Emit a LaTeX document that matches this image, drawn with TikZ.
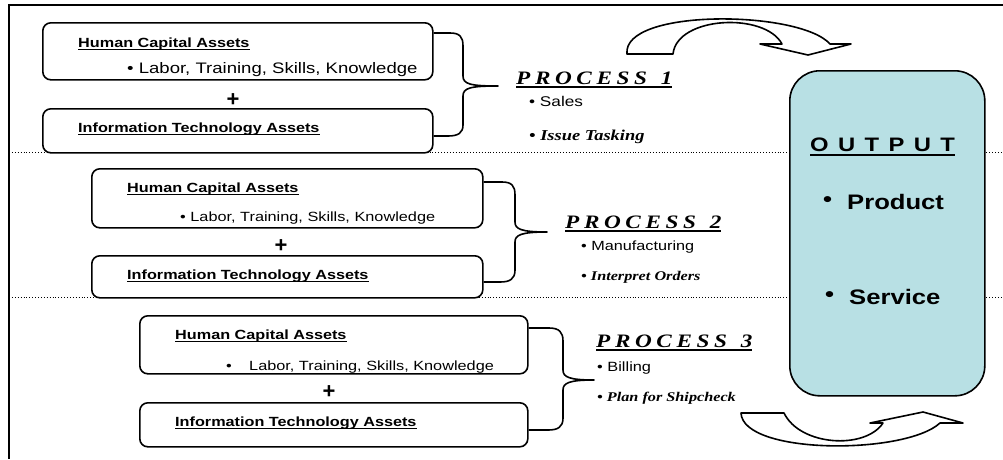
\documentclass[tikz,border=0pt]{standalone}
\usepackage{fontspec}
\setmainfont{Liberation Sans}
\newfontfamily\tms{Liberation Serif}
\usepackage{graphicx}
\newcommand\sx[1]{\scalebox{1.22}[1]{#1}}
\newcommand\ulx[3]{\setbox0\hbox{#3}\leavevmode\rlap{\rule[-#1]{\wd0}{#2}}\box0}
\newcommand\fs[1]{\fontsize{#1}{#1}\selectfont}
\newcommand\lsp{\hspace{3.8pt}}
\newcommand\osp{\hspace{7.7pt}}
\definecolor{outfill}{RGB}{184,224,228}
\begin{document}
\begin{tikzpicture}[x=1pt,y=-1pt,
  asset/.style={draw, line width=1.6pt, rounded corners=8pt, fill=white, anchor=north west, inner sep=0pt},
  txt/.style={anchor=west, inner sep=0pt},
  bracepath/.style={line width=1.6pt, line join=round},
  sep/.style={dotted, line width=0.9pt},
  frame/.style={line width=1.4pt},
  blockarrow/.style={draw, fill=white, line width=1.6pt, line join=round}
]
\useasboundingbox (0,0) rectangle (1003,459);
% frame
\coordinate (ftl) at (9,5);
\coordinate (ftr) at (1003,5);
\coordinate (fbl) at (9,459);
\draw[frame] (ftr) -- (ftl) -- (fbl);
% separators
\coordinate (s1a) at (9,152); \coordinate (s1b) at (1003,152);
\coordinate (s2a) at (9,297); \coordinate (s2b) at (1003,297);
\draw[sep] (s1a) -- (s1b);
\draw[sep] (s2a) -- (s2b);

% ---- set 1
\node[asset, minimum width=390pt, minimum height=57pt] (h1) at (42,22) {};
\node[asset, minimum width=390pt, minimum height=44pt] (i1) at (42,108) {};
\node[txt] (h1t) at (78,44) {\fs{13.3}\sx{\ulx{2.8pt}{1.4pt}{\bfseries Human Capital Assets}}};
\node[txt] (h1b) at (127,70) {\fs{15.2}\sx{• Labor, Training, Skills, Knowledge}};
\node (p1) at (233,100) {\fs{22}\bfseries +};
\node[txt] (i1t) at (78,129) {\fs{13.3}\sx{\ulx{2.8pt}{1.4pt}{\bfseries Information Technology Assets}}};

% ---- set 2
\node[asset, minimum width=391pt, minimum height=59pt] (h2) at (91,168) {};
\node[asset, minimum width=391pt, minimum height=42pt] (i2) at (91,255) {};
\node[txt] (h2t) at (127,189) {\fs{13.3}\sx{\ulx{2.8pt}{1.4pt}{\bfseries Human Capital Assets}}};
\node[txt] (h2b) at (180,218) {\fs{13.35}\sx{• Labor, Training, Skills, Knowledge}};
\node (p2) at (281,246) {\fs{22}\bfseries +};
\node[txt] (i2t) at (127,276) {\fs{13.3}\sx{\ulx{2.8pt}{1.4pt}{\bfseries Information Technology Assets}}};

% ---- set 3
\node[asset, minimum width=388pt, minimum height=58pt] (h3) at (139,315) {};
\node[asset, minimum width=388pt, minimum height=44pt] (i3) at (139,402) {};
\node[txt] (h3t) at (175,336) {\fs{13.3}\sx{\ulx{2.8pt}{1.4pt}{\bfseries Human Capital Assets}}};
\node[txt] (h3d) at (226,367) {\fs{13.35}\sx{•}};
\node[txt] (h3b) at (249,367) {\fs{13.35}\sx{Labor, Training, Skills, Knowledge}};
\node (p3) at (329,392) {\fs{22}\bfseries +};
\node[txt] (i3t) at (175,423) {\fs{13.3}\sx{\ulx{2.8pt}{1.4pt}{\bfseries Information Technology Assets}}};

% ---- braces
\draw[bracepath] (h1.east |- 0,33) -- (450,33) .. controls (460,33) and (463,37) .. (463,46) -- (463,76)
  .. controls (463,84) and (470,86) .. (498,86) .. controls (470,86) and (463,88) .. (463,96) -- (463,125)
  .. controls (463,133) and (458,136) .. (448,136) -- (i1.east |- 0,136);
\draw[bracepath] (h2.east |- 0,182) -- (502,182) .. controls (512,182) and (515,186) .. (515,195) -- (515,222)
  .. controls (515,229) and (521,232) .. (547,232) .. controls (521,232) and (515,235) .. (515,242) -- (515,270)
  .. controls (515,279) and (510,282) .. (500,282) -- (i2.east |- 0,282);
\draw[bracepath] (h3.east |- 0,328) -- (549,328) .. controls (559,328) and (563,332) .. (563,341) -- (563,370)
  .. controls (563,377) and (569,380) .. (594,380) .. controls (569,380) and (563,383) .. (563,390) -- (563,418)
  .. controls (563,427) and (558,430) .. (548,430) -- (i3.east |- 0,430);

% ---- processes
\node[txt] (pr1) at (516,80) {\fs{19}\sx{\ulx{3.2pt}{1.5pt}{\tms\bfseries\itshape P\lsp R\lsp O\lsp C\lsp E\lsp S\lsp S\hspace{11.3pt}1}}};
\node[txt] (pr1a) at (529,101) {\fs{14.1}\sx{• Sales}};
\node[txt] (pr1b) at (529,137) {\fs{15.1}\sx{\tms\bfseries\itshape • Issue Tasking}};

\node[txt] (pr2) at (565,224) {\fs{19}\sx{\ulx{3.2pt}{1.5pt}{\tms\bfseries\itshape P\lsp R\lsp O\lsp C\lsp E\lsp S\lsp S\hspace{11.3pt}2}}};
\node[txt] (pr2a) at (581,247) {\fs{13.3}\sx{• Manufacturing}};
\node[txt] (pr2b) at (581,277) {\fs{13.3}\sx{\tms\bfseries\itshape • Interpret Orders}};

\node[txt] (pr3) at (596,343) {\fs{19}\sx{\ulx{3.2pt}{1.5pt}{\tms\bfseries\itshape P\lsp R\lsp O\lsp C\lsp E\lsp S\lsp S\hspace{11.3pt}3}}};
\node[txt] (pr3a) at (597,368) {\fs{13.4}\sx{• Billing}};
\node[txt] (pr3b) at (597,398) {\fs{13.3}\sx{\tms\bfseries\itshape • Plan for Shipcheck}};

% ---- output
\node[draw, fill=outfill, line width=1.6pt, rounded corners=30pt, minimum width=195pt, minimum height=325pt,
  anchor=north west, inner sep=0pt] (out) at (789,70) {};
\node[txt] (outt) at (810,147) {\fs{19.5}\sx{\ulx{3.8pt}{2.2pt}{\bfseries O\osp U\osp T\osp P\osp U\osp T}}};
\node[txt] (o1d) at (823,202) {\fs{21}\sx{\bfseries •}};
\node[txt] (o1) at (847,202) {\fs{21}\sx{\bfseries Product}};
\node[txt] (o2d) at (825,297) {\fs{21}\sx{\bfseries •}};
\node[txt] (o2) at (849,297) {\fs{21}\sx{\bfseries Service}};

% ---- curved block arrows
\draw[blockarrow] (627,54) -- (673,54) .. controls (677,16) and (765,12) .. (782,44) -- (760,44) -- (808,55)
  -- (851,44) -- (830,44) .. controls (800,10) and (622,8) .. (627,54) -- cycle;
\draw[blockarrow] (741,413) -- (784,413) .. controls (800,446) and (865,450) .. (883,423) -- (870,423) -- (923,412)
  -- (963,423) -- (940,423) .. controls (905,455) and (743,455) .. (741,413) -- cycle;
\end{tikzpicture}
\end{document}
